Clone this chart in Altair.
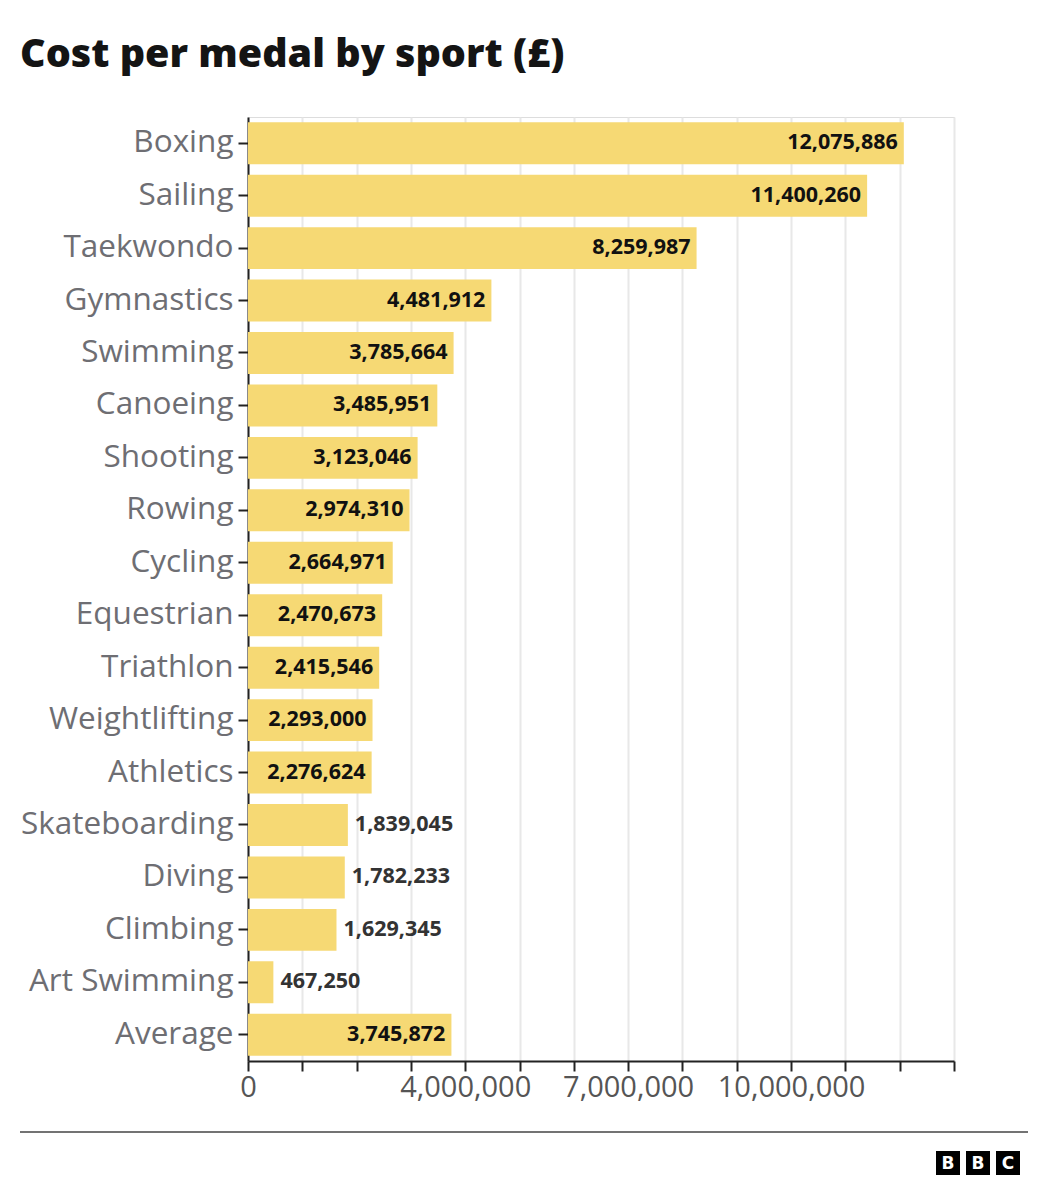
import altair as alt
import pandas as pd

sports = ["Boxing", "Sailing", "Taekwondo", "Gymnastics", "Swimming", "Canoeing",
          "Shooting", "Rowing", "Cycling", "Equestrian", "Triathlon", "Weightlifting",
          "Athletics", "Skateboarding", "Diving", "Climbing", "Art Swimming", "Average"]
costs = [12075886, 11400260, 8259987, 4481912, 3785664, 3485951,
         3123046, 2974310, 2664971, 2470673, 2415546, 2293000,
         2276624, 1839045, 1782233, 1629345, 467250, 3745872]
tick_values = list(range(0, 13000001, 1000000))
shown_labels = [0, 4000000, 7000000, 10000000]

df = pd.DataFrame({"sport": sports, "cost": costs})
df["label"] = df["cost"].map(lambda v: f"{v:,}")

W, H = 706, 944
BAR = "#F6D974"
FONT = "Open Sans"

x_enc = alt.X("cost:Q",
              scale=alt.Scale(domain=[0, 13000000], nice=False),
              axis=alt.Axis(values=tick_values, title=None,
                            labelExpr="indexof(" + str(shown_labels) + ", datum.value) >= 0 ? format(datum.value, ',') : ''",
                            labelOverlap=False, labelFlush=False, labelFontSize=29,
                            labelColor="#555555",
                            labelFont=FONT, labelPadding=2, tickSize=10, tickColor="#222222",
                            domainColor="#222222", domainWidth=2, tickWidth=2,
                            grid=True, gridColor="#e8e8e8", gridWidth=2))
y_enc = alt.Y("sport:N", sort=sports,
              scale=alt.Scale(paddingInner=0.2, paddingOuter=0.1),
              axis=alt.Axis(title=None, labelFontSize=31.5, labelColor="#6e6e73",
                            labelFont=FONT, labelPadding=5, labelLimit=0, tickSize=10,
                            tickColor="#222222", tickWidth=2,
                            domainColor="#222222", domainWidth=2))

base = alt.Chart(df)
bars = base.mark_bar(color=BAR).encode(x=x_enc, y=y_enc)

inside = base.transform_filter("datum.cost >= 2000000").mark_text(
    align="right", baseline="middle", dx=-6, fontSize=21.5, fontWeight="bold",
    font=FONT, color="#111111"
).encode(x="cost:Q", y=alt.Y("sport:N", sort=sports), text="label:N")

outside = base.transform_filter("datum.cost < 2000000").mark_text(
    align="left", baseline="middle", dx=7, fontSize=21.5, fontWeight="bold",
    font=FONT, color="#333333"
).encode(x="cost:Q", y=alt.Y("sport:N", sort=sports), text="label:N")

one = pd.DataFrame({"t": ["Cost per medal by sport (£)"]})
title = alt.Chart(one).mark_text(
    align="left", baseline="alphabetic", fontSize=39.5, fontWeight=800,
    font=FONT, color="#141414"
).encode(x=alt.value(-228), y=alt.value(-50), text="t:N")

footer = alt.Chart(one).mark_rule(color="#444444", strokeWidth=1.5).encode(
    x=alt.value(-228), x2=alt.value(780), y=alt.value(1015))

logo_layers = []
for i, letter in enumerate(["B", "B", "C"]):
    x0 = 688 + i * 30
    box = alt.Chart(one).mark_rect(color="#000000").encode(
        x=alt.value(x0), x2=alt.value(x0 + 24), y=alt.value(1034), y2=alt.value(1058))
    txt = alt.Chart(pd.DataFrame({"t": [letter]})).mark_text(
        align="center", baseline="middle", fontSize=17, fontWeight="bold",
        font="DejaVu Sans", color="#ffffff"
    ).encode(x=alt.value(x0 + 12), y=alt.value(1047), text="t:N")
    logo_layers += [box, txt]

chart = alt.layer(bars, inside, outside, title, footer, *logo_layers).properties(
    width=W, height=H,
    autosize=alt.AutoSizeParams(type="none"),
    padding={"left": 240, "top": 109, "right": 86, "bottom": 127},
).configure_view(stroke=None).configure(background="#ffffff")

chart.save("out.html", embed_options={"renderer": "svg", "actions": False})
